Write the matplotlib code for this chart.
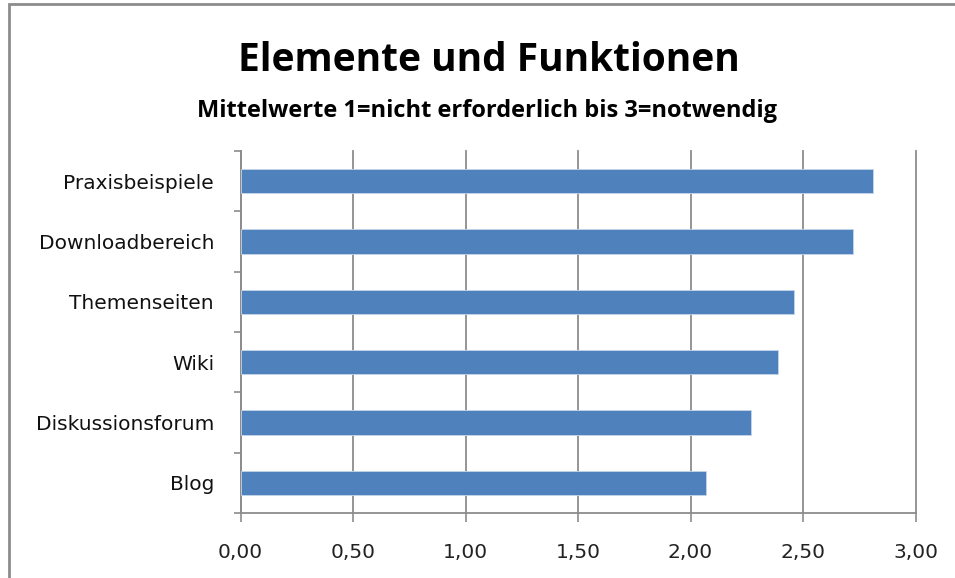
import matplotlib
matplotlib.use("Agg")
import matplotlib.pyplot as plt
from matplotlib.patches import Rectangle

categories = ["Praxisbeispiele", "Downloadbereich", "Themenseiten", "Wiki", "Diskussionsforum", "Blog"]
values = [2.81, 2.72, 2.46, 2.39, 2.27, 2.07]
xticks = [0.0, 0.5, 1.0, 1.5, 2.0, 2.5, 3.0]
xtick_labels = ["0,00", "0,50", "1,00", "1,50", "2,00", "2,50", "3,00"]
title = "Elemente und Funktionen"
subtitle = "Mittelwerte 1=nicht erforderlich bis 3=notwendig"

W, H = 955, 578
fig = plt.figure(figsize=(W / 100, H / 100), dpi=100)
fig.patch.set_facecolor("white")

# outer chart border
fig.patches.append(Rectangle((9 / W, -0.1), 1.2, (H - 4.5) / H + 0.1, transform=fig.transFigure,
                             fill=False, edgecolor="#8c8c8c", linewidth=2, zorder=0))

left, right, top, bottom = 240.5, 915.5, 151, 513
ax = fig.add_axes([left / W, 1 - bottom / H, (right - left) / W, (bottom - top) / H])

n = len(categories)
ypos = list(range(n))[::-1]
ax.barh(ypos, values, height=0.4, color="#4f81bd", edgecolor="#c5d5ea", linewidth=0.6, zorder=3)

ax.set_xlim(0, 3.0)
ax.set_ylim(-0.5, n - 0.5)
ax.set_xticks(xticks)
ax.set_xticklabels(xtick_labels, family="DejaVu Sans", fontsize=14.5, color="#222222")
ax.set_yticks([y for y in ypos])
ax.set_yticklabels(categories, family="DejaVu Sans", fontsize=14.5, color="#111111")
ax.set_yticks([i - 0.5 for i in range(n + 1)], minor=True)
ax.tick_params(axis="y", which="major", length=0, pad=19)
ax.tick_params(axis="y", which="minor", length=5, width=1.2, color="#8c8c8c")
ax.tick_params(axis="x", which="major", length=6.5, width=1.2, color="#8c8c8c", pad=15)

ax.grid(axis="x", color="#8c8c8c", linewidth=1.3, zorder=1)
for gl in ax.get_xgridlines():
    gl.set_clip_on(False)
for s in ["top", "right"]:
    ax.spines[s].set_visible(False)
for s in ["left", "bottom"]:
    ax.spines[s].set_color("#8c8c8c")
    ax.spines[s].set_linewidth(1.3)

fig.text(489 / W, 1 - 71 / H, title, ha="center", va="baseline",
         family="Open Sans", fontweight="bold", fontsize=28, color="black")
fig.text(487 / W, 1 - 117 / H, subtitle, ha="center", va="baseline",
         family="Open Sans", fontweight="bold", fontsize=17, color="black")

fig.savefig("out.png", dpi=100, facecolor="white")
